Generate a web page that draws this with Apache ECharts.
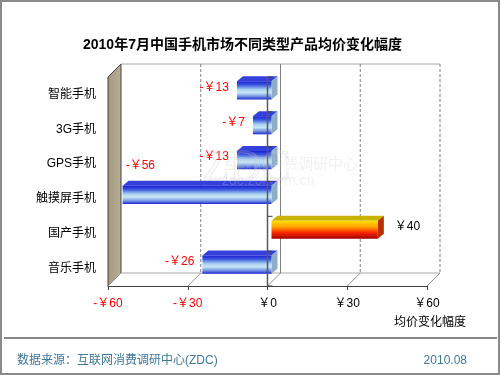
<!DOCTYPE html>
<html><head><meta charset="utf-8">
<script src="https://cdn.jsdelivr.net/npm/echarts@6/dist/echarts.min.js"></script>
<style>html,body{margin:0;padding:0;background:#fff}#c{width:500px;height:375px}</style>
</head><body><div id="c"></div>
<script>
const titleText = '2010年7月中国手机市场不同类型产品均价变化幅度';
const categories = ['智能手机', '3G手机', 'GPS手机', '触摸屏手机', '国产手机', '音乐手机'];
const values = [-13, -7, -13, -56, 40, -26];
const xTickValues = [-60, -30, 0, 30, 60];
const xTickLabels = ['-￥60', '-￥30', '￥0', '￥30', '￥60'];
const axisName = '均价变化幅度';
const sourceText = '数据来源：互联网消费调研中心(ZDC)';
const dateText = '2010.08';

const FONT = "'Liberation Sans','Noto Sans CJK SC',sans-serif";
const D = 13;
const chart = echarts.init(document.getElementById('c'), null, {renderer: 'canvas'});

function frame(api) {
  const n = categories.length;
  const band = api.size([0, 1])[1];
  const top = api.coord([0, 0])[1] - band / 2;
  const bottom = api.coord([0, n - 1])[1] + band / 2;
  const xs = xTickValues.map(v => api.coord([v, 0])[0]);
  return {n, band, top, bottom, xs};
}
function line(x1, y1, x2, y2, style) {
  return {type: 'line', shape: {x1, y1, x2, y2}, style: Object.assign({stroke: '#808080', lineWidth: 1}, style)};
}

function renderBack(params, api) {
  const f = frame(api);
  const last = f.xs.length - 1;
  const ch = [];
  ch.push({type: 'polygon', shape: {points: [[f.xs[0], f.top], [f.xs[0] + D, f.top - D], [f.xs[0] + D, f.bottom - D], [f.xs[0], f.bottom]]},
    style: {fill: new echarts.graphic.LinearGradient(0, 0, 1, 0, [{offset: 0, color: '#a39880'}, {offset: 1, color: '#b9ae97'}]), stroke: '#404040', lineWidth: 1}});
  ch.push(line(f.xs[0] + D, f.top - D, f.xs[last] + D, f.top - D, {stroke: '#a8a8a8'}));
  ch.push(line(f.xs[0] + D, f.bottom - D, f.xs[last] + D, f.bottom - D, {stroke: '#a8a8a8'}));
  for (let i = 1; i <= last; i++) {
    const solid = xTickValues[i] === 0;
    ch.push(line(f.xs[i] + D, f.top - D, f.xs[i] + D, f.bottom - D, solid ? {stroke: '#808080'} : {stroke: '#808080', lineDash: [3, 2]}));
  }
  for (let i = 0; i <= last; i++) {
    ch.push(line(f.xs[i], f.bottom, f.xs[i] + D, f.bottom - D, {stroke: '#909090'}));
  }
  return {type: 'group', children: ch};
}

function renderFront(params, api) {
  const f = frame(api);
  const zx = api.coord([0, 0])[0];
  const ch = [line(zx, f.top, zx, f.bottom, {stroke: '#585858', lineWidth: 1.5})];
  for (let k = 0; k <= f.n; k++) {
    const y = f.top + k * f.band;
    ch.push(line(zx, y, zx + 5, y, {stroke: '#404040', lineWidth: 1}));
  }
  return {type: 'group', children: ch};
}

function renderBar(params, api) {
  const v = api.value(0), idx = api.value(1);
  const p0 = api.coord([0, idx]), p1 = api.coord([v, idx]);
  const band = api.size([0, 1])[1];
  const plotLeft = api.coord([xTickValues[0], idx])[0];
  const fh = band * 0.52;
  const ox = 4, oy = -4, dx = 6, dy = -5;
  const x0 = Math.min(p0[0], p1[0]) + ox, x1 = Math.max(p0[0], p1[0]) + ox;
  const yc = p0[1] + oy, yT = yc - fh / 2, yB = yc + fh / 2;
  const neg = v < 0;
  const front = neg
    ? [{offset: 0, color: '#1a20d0'}, {offset: 0.2, color: '#3c58e0'}, {offset: 0.45, color: '#a8d0f0'}, {offset: 0.62, color: '#c8e8f6'}, {offset: 0.82, color: '#7898e4'}, {offset: 1, color: '#1e28d4'}]
    : [{offset: 0, color: '#ffe000'}, {offset: 0.35, color: '#ffa000'}, {offset: 0.65, color: '#ff2800'}, {offset: 1, color: '#a00000'}];
  const topC = neg ? '#3440dc' : '#c8b400';
  const sideC = neg ? '#8eaec8' : '#b83000';
  const ch = [];
  ch.push({type: 'polygon', shape: {points: [[x0, yT], [x0 + dx, yT + dy], [x1 + dx, yT + dy], [x1, yT]]}, style: {fill: topC}});
  ch.push({type: 'polygon', shape: {points: [[x1, yT], [x1 + dx, yT + dy], [x1 + dx, yB + dy], [x1, yB]]}, style: {fill: sideC}});
  ch.push({type: 'rect', shape: {x: x0, y: yT, width: x1 - x0, height: fh}, style: {fill: new echarts.graphic.LinearGradient(0, 0, 0, 1, front)}});
  const txt = (neg ? '-￥' : '￥') + Math.abs(v);
  const tw = 30;
  let tx, ty, al;
  if (neg) {
    if (x0 - 8 - tw < plotLeft) { tx = x0 + 3; ty = yT - 20; al = 'left'; }
    else { tx = x0 - 8; ty = yc - 3; al = 'right'; }
  } else { tx = x1 + dx + 11; ty = yc - 3; al = 'left'; }
  ch.push({type: 'text', style: {text: txt, x: tx, y: ty, fill: neg ? '#ff0000' : '#000000', font: '12px ' + FONT, align: al, verticalAlign: 'middle'}});
  return {type: 'group', children: ch};
}

const option = {
  animation: false,
  backgroundColor: '#ffffff',
  textStyle: {fontFamily: FONT},
  title: {text: titleText, left: 78, top: 33, textStyle: {fontSize: 14, fontWeight: 'bold', color: '#000', fontFamily: FONT}},
  grid: {left: 108, top: 77, width: 319, height: 209},
  xAxis: {
    type: 'value', min: -60, max: 60, interval: 30,
    splitLine: {show: false},
    axisLine: {show: true, lineStyle: {color: '#404040', width: 1}},
    axisTick: {show: true, length: 4, lineStyle: {color: '#404040'}},
    axisLabel: {margin: 12, fontSize: 12, fontFamily: FONT,
      formatter: v => { const i = xTickValues.indexOf(v); const t = i >= 0 ? xTickLabels[i] : ''; return (v < 0 ? '{n|' : '{p|') + t + '}'; },
      rich: {n: {color: '#ff0000', fontSize: 12, fontFamily: FONT}, p: {color: '#000000', fontSize: 12, fontFamily: FONT}}},
    name: axisName, nameLocation: 'end', nameGap: 3,
    nameTextStyle: {fontSize: 12, color: '#000', fontFamily: FONT, align: 'center', verticalAlign: 'top', padding: [31, 0, 0, 0]}
  },
  yAxis: {
    type: 'category', data: categories, inverse: true,
    axisLine: {show: false}, axisTick: {show: false}, splitLine: {show: false},
    axisLabel: {margin: 12, fontSize: 12, color: '#000', fontFamily: FONT}
  },
  series: [
    {type: 'custom', z: 1, clip: false, silent: true, data: [[0, 0]], encode: {x: 0, y: 1}, renderItem: renderBack},
    {type: 'custom', z: 2, clip: false, data: values.map((v, i) => [v, i]), encode: {x: 0, y: 1}, renderItem: renderBar},
    {type: 'custom', z: 3, clip: false, silent: true, data: [[0, 0]], encode: {x: 0, y: 1}, renderItem: renderFront}
  ],
  graphic: [
    {type: 'rect', z: 100, shape: {x: 1, y: 1, width: 498, height: 373}, style: {fill: 'none', stroke: '#8a8a8a', lineWidth: 2}},
    {type: 'line', shape: {x1: 4, y1: 338, x2: 497, y2: 338}, style: {stroke: '#111', lineWidth: 1}},
    {type: 'text', left: 17, top: 355, style: {text: sourceText, fill: '#3f7896', font: '12px ' + FONT}},
    {type: 'text', right: 33, top: 355, style: {text: dateText, fill: '#3f7896', font: '12px ' + FONT}},
    {type: 'text', z: 50, left: 202, top: 146, style: {text: 'ZDC', fill: 'rgba(220,220,220,0.15)', stroke: 'rgba(190,190,190,0.25)', lineWidth: 1, font: '44px "Liberation Serif"'}},
    {type: 'text', z: 50, left: 223, top: 156, style: {text: '互联网消费调研中心', fill: 'rgba(200,200,200,0.25)', font: '15px "Noto Sans CJK SC"'}},
    {type: 'text', z: 50, left: 222, top: 174, style: {text: 'zdc.zol.com.cn', fill: 'rgba(200,200,200,0.25)', font: '14px "Liberation Sans"'}}
  ]
};
chart.setOption(option);
</script></body></html>
